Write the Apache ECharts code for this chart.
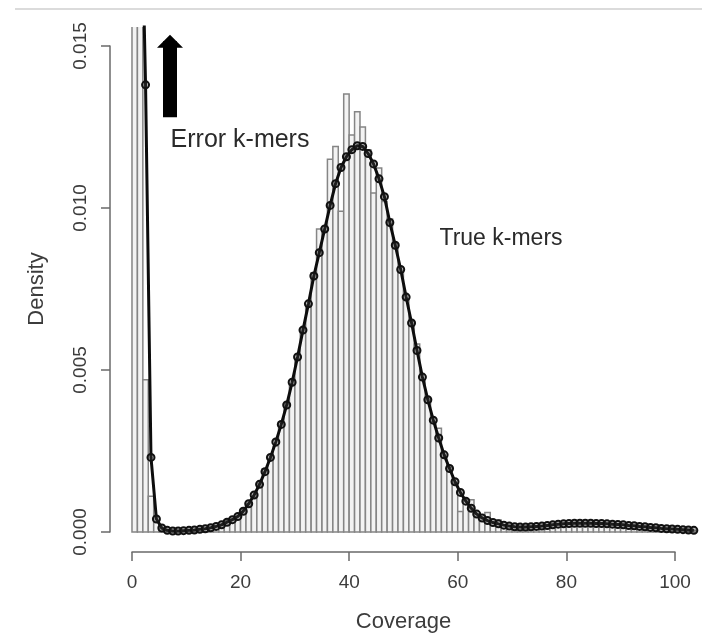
<!DOCTYPE html>
<html>
<head>
<meta charset="utf-8">
<script src="https://cdn.jsdelivr.net/npm/echarts@6/dist/echarts.min.js"></script>
<style>
  html, body { margin: 0; padding: 0; background: #fff; }
  #chart { width: 702px; height: 634px; }
</style>
</head>
<body>
<div id="chart"></div>
<script>
// histogram of k-mer coverage, one bin per unit, first bin starts at coverage 0
const binStart = 0
const binWidth = 1
const histDensity = [
  0.0600, 0.0300, 0.0047, 0.0011, 0.0003, 0.0001, 0.00004, 0.00003, 0.00003, 0.00004,
  0.00005, 0.00006, 0.00008, 0.00011, 0.00013, 0.00018, 0.00024, 0.00036, 0.00040, 0.00037,
  0.00070, 0.00088, 0.00108, 0.00150, 0.00195, 0.00225, 0.00265, 0.00340, 0.00395, 0.00455,
  0.00535, 0.00630, 0.00700, 0.00800, 0.00935, 0.00930, 0.01150, 0.01190, 0.00990, 0.01352,
  0.01225, 0.01297, 0.01250, 0.01180, 0.01046, 0.01123, 0.01020, 0.00966, 0.00890, 0.00800,
  0.00720, 0.00650, 0.00580, 0.00470, 0.00410, 0.00340, 0.00320, 0.00230, 0.00200, 0.00150,
  0.00063, 0.00100, 0.00099, 0.00056, 0.00045, 0.00060, 0.00030, 0.00037, 0.00022, 0.00018,
  0.00016, 0.00015, 0.00014, 0.00016, 0.00017, 0.00018, 0.00020, 0.00021, 0.00024, 0.00025,
  0.00026, 0.00028, 0.00027, 0.00028, 0.00027, 0.00026, 0.00027, 0.00025, 0.00024, 0.00023,
  0.00022, 0.00020, 0.00019, 0.00017, 0.00016, 0.00014, 0.00013, 0.00011, 0.00010, 0.00009,
  0.00008, 0.00007, 0.00006, 0.00005
]

// fitted density, one point per bin middle, first point at coverage 1.5
const fitStart = 1.5
const fitDensity = [
  0.0215, 0.0138, 0.0023, 0.00040, 0.00012, 0.00005, 0.00003, 0.00003, 0.00004, 0.00005,
  0.00006, 0.00008, 0.00010, 0.00013, 0.00017, 0.00022, 0.00030, 0.00038, 0.00048, 0.00064,
  0.00087, 0.00114, 0.00147, 0.00186, 0.00230, 0.00278, 0.00332, 0.00392, 0.00462, 0.00540,
  0.00623, 0.00704, 0.00790, 0.00862, 0.00935, 0.01008, 0.01075, 0.01125, 0.01158, 0.01180,
  0.01192, 0.01190, 0.01168, 0.01136, 0.01090, 0.01035, 0.00955, 0.00885, 0.00810, 0.00725,
  0.00645, 0.00560, 0.00478, 0.00408, 0.00345, 0.00290, 0.00238, 0.00196, 0.00155, 0.00122,
  0.00095, 0.00073, 0.00055, 0.00043, 0.00035, 0.00029, 0.00025, 0.00021, 0.00018, 0.00016,
  0.00015, 0.00015, 0.00016, 0.00017, 0.00018, 0.00020, 0.00022, 0.00024, 0.00025, 0.00026,
  0.00027, 0.00027, 0.00027, 0.00027, 0.00026, 0.00026, 0.00025, 0.00024, 0.00023, 0.00022,
  0.00020, 0.00019, 0.00017, 0.00016, 0.00014, 0.00013, 0.00011, 0.00010, 0.00009, 0.00008,
  0.00007, 0.00006, 0.00005
]

// axis ticks
const xTickMin = 0
const xTickMax = 100
const xTickStep = 20
const yTickMin = 0
const yTickMax = 0.015
const yTickStep = 0.005

// arrow pointing at the error peak (coverage, density from -> to)
const arrowX = 7
const arrowFrom = 0.0128
const arrowTo = 0.01515

const font = '"Liberation Sans", Arial, sans-serif'
const axisColor = '#6a6a6a'
const textColor = '#3c3c3c'

const chart = echarts.init(document.getElementById('chart'), null, { renderer: 'canvas' })

const histData = histDensity.map((d, i) => [binStart + i * binWidth, binStart + (i + 1) * binWidth, d])
const fitData = fitDensity.map((d, i) => [fitStart + i * binWidth, d])

const option = {
  animation: false,
  backgroundColor: '#fff',
  textStyle: { fontFamily: font },
  grid: [
    // plot region
    { left: 110, right: 0, top: 27, bottom: 81 },
    // x axis (R style, spans ticks only)
    { left: 132, width: 543, top: 500, bottom: 81 },
    // y axis
    { left: 110, width: 20, top: 46, height: 486 }
  ],
  xAxis: [
    { gridIndex: 0, type: 'value', min: -4.05, max: 105, show: false },
    {
      gridIndex: 1,
      type: 'value',
      min: xTickMin,
      max: xTickMax,
      interval: xTickStep,
      name: 'Coverage',
      nameLocation: 'middle',
      nameGap: 59,
      nameTextStyle: { fontSize: 22, color: textColor, fontFamily: font },
      axisLine: { show: true, onZero: false, lineStyle: { color: axisColor, width: 1.5 } },
      axisTick: { show: true, inside: false, length: 9, lineStyle: { color: axisColor, width: 1.5 } },
      axisLabel: { fontSize: 19, margin: 21, color: textColor, fontFamily: font },
      splitLine: { show: false }
    },
    { gridIndex: 2, type: 'value', min: 0, max: 1, show: false }
  ],
  yAxis: [
    { gridIndex: 0, type: 'value', min: -0.00065, max: 0.015586, show: false },
    { gridIndex: 1, type: 'value', min: 0, max: 1, show: false },
    {
      gridIndex: 2,
      type: 'value',
      min: yTickMin,
      max: yTickMax,
      interval: yTickStep,
      name: 'Density',
      nameLocation: 'middle',
      nameGap: 62,
      nameTextStyle: { fontSize: 22, color: textColor, fontFamily: font },
      axisLine: { show: true, onZero: false, lineStyle: { color: axisColor, width: 1.5 } },
      axisTick: { show: true, inside: false, length: 9, lineStyle: { color: axisColor, width: 1.5 } },
      axisLabel: {
        rotate: 90,
        fontSize: 19,
        margin: 20,
        color: textColor,
        fontFamily: font,
        formatter: (v) => v.toFixed(3)
      },
      splitLine: { show: false }
    }
  ],
  graphic: [
    {
      type: 'line',
      shape: { x1: 15, y1: 9, x2: 702, y2: 9 },
      style: { stroke: '#cfcfcf', lineWidth: 1.5 }
    },
    {
      type: 'text',
      x: 240,
      y: 140,
      style: { text: 'Error k-mers', font: '25px ' + font, fill: '#2a2a2a', align: 'center', verticalAlign: 'middle' }
    },
    {
      type: 'text',
      x: 501,
      y: 239,
      style: { text: 'True k-mers', font: '23px ' + font, fill: '#2a2a2a', align: 'center', verticalAlign: 'middle' }
    }
  ],
  series: [
    {
      name: 'histogram',
      type: 'custom',
      xAxisIndex: 0,
      yAxisIndex: 0,
      clip: true,
      silent: true,
      encode: { x: [0, 1], y: 2 },
      renderItem: function (params, api) {
        const top = api.coord([api.value(0), api.value(2)])
        const bottom = api.coord([api.value(1), 0])
        return {
          type: 'rect',
          shape: { x: top[0], y: top[1], width: bottom[0] - top[0], height: bottom[1] - top[1] },
          style: { fill: '#f3f3f3', stroke: '#858585', lineWidth: 1.5 }
        }
      },
      data: histData
    },
    {
      name: 'fit',
      type: 'line',
      xAxisIndex: 0,
      yAxisIndex: 0,
      clip: true,
      silent: true,
      showAllSymbol: true,
      symbol: 'circle',
      symbolSize: 7,
      itemStyle: { color: 'rgba(60,60,60,0.35)', borderColor: '#111', borderWidth: 2 },
      lineStyle: { color: '#0d0d0d', width: 3 },
      z: 3,
      data: fitData,
      markLine: {
        silent: true,
        animation: false,
        label: { show: false },
        emphasis: { disabled: true },
        lineStyle: { color: '#000', width: 14, type: 'solid', cap: 'butt' },
        data: [
          [
            { coord: [arrowX, arrowFrom], symbol: 'none' },
            { coord: [arrowX, arrowTo], symbol: 'triangle', symbolSize: [26, 13] }
          ]
        ]
      }
    }
  ]
}

chart.setOption(option)
</script>
</body>
</html>
